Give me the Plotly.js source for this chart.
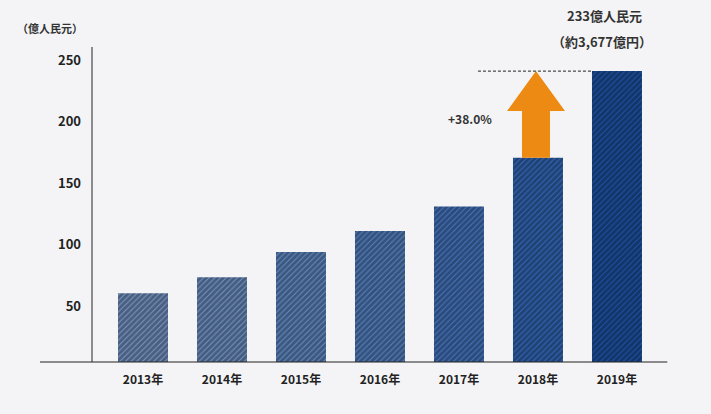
<!DOCTYPE html>
<html><head><meta charset="utf-8">
<script src="https://cdn.plot.ly/plotly-3.0.1.min.js"></script>
<style>html,body{margin:0;padding:0;background:#f4f4f6;}#c{width:711px;height:414px;}</style>
</head><body><div id="c"></div>
<script>
const years = ['2013年','2014年','2015年','2016年','2017年','2018年','2019年'];
const values = [60.3, 73.5, 94, 111, 131, 170.5, 241];
const barBg = ['#7e9cc6','#7798c6','#6690c6','#5886c4','#4779c0','#336aba','#1e56a8'];
const barFg = ['#151f38','#151f38','#141e36','#131d34','#121c33','#101a30','#08132a'];
const yTicks = [50, 100, 150, 200, 250];
const unitLabel = '（億人民元）';
const topLabel1 = '233億人民元';
const topLabel2 = '（約3,677億円）';
const growthLabel = '+38.0%';

const font = 'Noto Sans CJK JP, Noto Sans, sans-serif';
const xs = years.map((_, i) => i);

const traces = xs.map(i => ({
  type: 'bar', x: [i], y: [values[i]], width: 50/79,
  marker: { color: barBg[i], line: {width: 0},
    pattern: { shape: '/', fgcolor: barFg[i], bgcolor: barBg[i], size: 4, solidity: 0.78, fillmode: 'overlay' } },
  hoverinfo: 'skip'
}));

const i18 = 5, i19 = 6;
const base = values[i18], tip = values[i19];
const headBase = tip - 32.5;
const hw = 29/79, sw = 14/79, cx = i18 - 2/79;
const arrowPath = `M ${cx-sw} ${base} L ${cx-sw} ${headBase} L ${cx-hw} ${headBase} L ${cx} ${tip} L ${cx+hw} ${headBase} L ${cx+sw} ${headBase} L ${cx+sw} ${base} Z`;

const layout = {
  width: 711, height: 414,
  paper_bgcolor: '#f4f4f6', plot_bgcolor: '#f4f4f6',
  margin: {l: 92, r: 55, t: 47, b: 52},
  showlegend: false,
  barmode: 'overlay',
  xaxis: { type: 'linear', range: [-0.6456, 6.494], tickvals: xs, ticktext: years,
    showgrid: false, zeroline: false, showline: false, ticks: '',
    tickfont: {family: font, size: 12, color: '#222', weight: 'bold'}, ticklabelstandoff: 9 },
  yaxis: { range: [4.5, 260.6], tickvals: yTicks, showgrid: false, zeroline: false, showline: false, ticks: '',
    tickfont: {family: font, size: 13, color: '#222', weight: 'bold'}, ticklabelstandoff: 10 },
  shapes: [
    {type: 'line', xref: 'paper', yref: 'paper', x0: 0, x1: 0, y0: 0, y1: 1, line: {color: '#222', width: 1}},
    {type: 'line', xref: 'paper', yref: 'paper', x0: -0.0922, x1: 1.02, y0: 0, y1: 0, line: {color: '#222', width: 1}},
    {type: 'path', xref: 'x', yref: 'y', path: arrowPath, fillcolor: '#ec8a13', line: {width: 0}},
    {type: 'line', xref: 'x', yref: 'y', x0: i18 - 60/79, x1: i19 - 25/79, y0: tip, y1: tip, line: {color: '#222', width: 1, dash: '3px,2px'}}
  ],
  annotations: [
    {xref: 'paper', yref: 'paper', x: (50-92)/564, y: (362-28)/315, text: unitLabel, showarrow: false,
      xanchor: 'center', yanchor: 'middle', font: {family: font, size: 11, color: '#333', weight: 'bold'}},
    {xref: 'x', yref: 'paper', x: i19 - 12/79, y: (362-16)/315, text: topLabel1, showarrow: false,
      xanchor: 'center', yanchor: 'middle', font: {family: font, size: 13, color: '#333', weight: 'bold'}},
    {xref: 'x', yref: 'paper', x: i19 - 15/79, y: (362-41)/315, text: topLabel2, showarrow: false,
      xanchor: 'center', yanchor: 'middle', font: {family: font, size: 13, color: '#333', weight: 'bold'}},
    {xref: 'x', yref: 'y', x: i18 - 44/79, y: (367.5-118)/1.23, text: growthLabel, showarrow: false,
      xanchor: 'right', yanchor: 'middle', font: {family: font, size: 12, color: '#333', weight: 'bold'}}
  ]
};
Plotly.newPlot('c', traces, layout, {displayModeBar: false, staticPlot: true});
</script></body></html>
